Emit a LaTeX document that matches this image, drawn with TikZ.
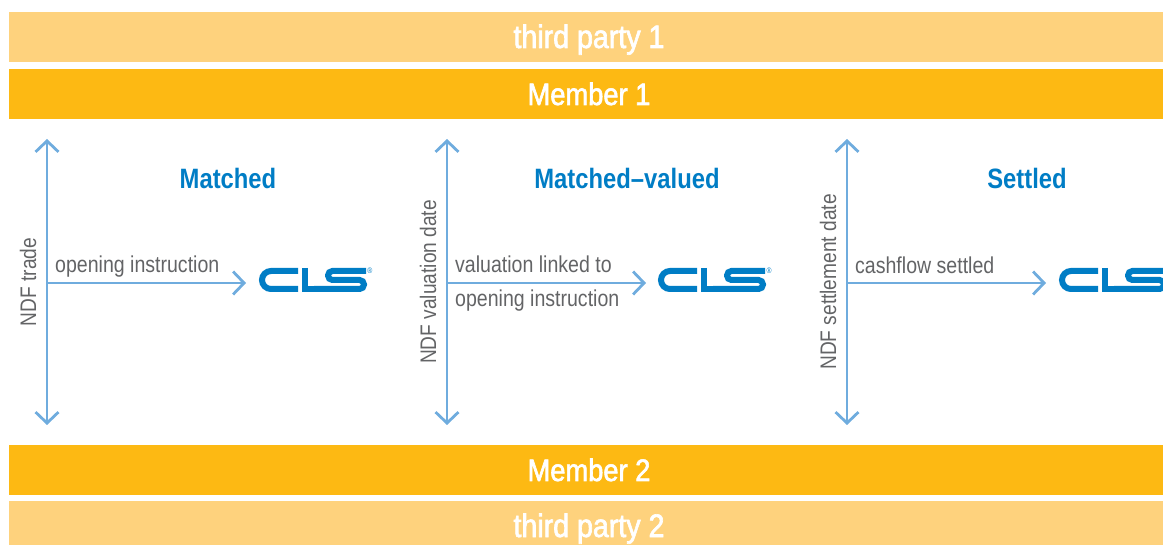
\documentclass[tikz,border=0pt]{standalone}
\usepackage{fontspec}
\setmainfont[FakeStretch=0.85]{Liberation Sans}
\newfontfamily\barfont[FakeStretch=0.88,FakeBold=2]{Liberation Sans}
\usetikzlibrary{arrows.meta}
\definecolor{member}{RGB}{253, 185, 19}
\definecolor{thirdparty}{RGB}{254, 210, 125}
\definecolor{pfeil}{RGB}{111, 172, 222}
\definecolor{clsblue}{RGB}{0, 125, 197}
\definecolor{labelgray}{RGB}{99, 100, 102}
\tikzset{
    bar/.style={fill=#1, draw=none, text=white, font=\barfont\fontsize{31}{31}\selectfont, minimum width=1160pt, minimum height=50pt, inner sep=0pt, text height=22pt, text depth=0pt},
    thirdbar/.style={bar=thirdparty, font=\barfont\fontsize{32.5}{32.5}\selectfont},
    headline/.style={clsblue, font=\fontsize{28}{28}\selectfont\bfseries},
    lbl/.style={labelgray, anchor=west, inner sep=0pt, font=\fontsize{23}{23}\selectfont},
    datelbl/.style={labelgray, anchor=center, inner sep=0pt, rotate=90, font=\fontsize{22.5}{22.5}\selectfont},
    reglbl/.style={clsblue, inner sep=0pt, font=\fontsize{8}{8}\selectfont},
    pfeilline/.style={pfeil, line width=2.8pt, {Straight Barb[length=11pt,width=23pt]}-{Straight Barb[length=11pt,width=23pt]}},
    pfeilright/.style={pfeil, line width=2.8pt, -{Straight Barb[length=11pt,width=23pt]}},
    clslogo/.pic={
        \draw[clsblue, line width=6pt, rounded corners=9pt] (39,-9) -- (3,-9) -- (3,9) -- (39,9);
        \draw[clsblue, line width=6pt] (46,-12) -- (46,9) -- (60,9);
        \draw[clsblue, line width=6pt, rounded corners=4.4pt] (55,9) -- (105,9) -- (105,0) -- (69,0) -- (69,-9) -- (107,-9);
    }
}
\begin{document}
\begin{tikzpicture}[x=1pt, y=-1pt]

    \useasboundingbox (0,0) rectangle (1163,545);
    \clip (0,0) rectangle (1163,545);

    \node[thirdbar] (third1) at (589,37) {third party 1};
    \node[bar=member] (member1) at (589,94) {Member 1};
    \node[bar=member] (member2) at (589,470) {Member 2};
    \node[thirdbar] (third2) at (589,526) {third party 2};

    \node[headline] (matched) at (228,178) {Matched};
    \node[headline] (matchedvalued) at (627,178) {Matched--valued};
    \node[headline] (settled) at (1027,178) {Settled};

    % NDF trade
    \coordinate (top1) at (47,139);
    \coordinate (bot1) at (47,425);
    \coordinate (mid1) at (47,283);
    \coordinate (end1) at (246,283);
    \draw[pfeilline] (top1) -- (bot1);
    \draw[pfeilright] (mid1) -- (end1);
    \node[datelbl] (date1) at (28,282) {NDF trade};
    \node[lbl] (text1) at (55,267) {opening instruction};
    \pic at (259,280) {clslogo};
    \node[reglbl] (reg1) at (370,271) {®};

    % NDF valuation
    \coordinate (top2) at (447,139);
    \coordinate (bot2) at (447,425);
    \coordinate (mid2) at (447,283);
    \coordinate (end2) at (646,283);
    \draw[pfeilline] (top2) -- (bot2);
    \draw[pfeilright] (mid2) -- (end2);
    \node[datelbl] (date2) at (428,282) {NDF valuation date};
    \node[lbl] (text2a) at (455,264) {valuation linked to};
    \node[lbl] (text2b) at (455,301) {opening instruction};
    \pic at (658,280) {clslogo};
    \node[reglbl] (reg2) at (769,271) {®};

    % NDF settlement
    \coordinate (top3) at (847,139);
    \coordinate (bot3) at (847,425);
    \coordinate (mid3) at (847,283);
    \coordinate (end3) at (1046,283);
    \draw[pfeilline] (top3) -- (bot3);
    \draw[pfeilright] (mid3) -- (end3);
    \node[datelbl] (date3) at (828,282) {NDF settlement date};
    \node[lbl] (text3) at (855,265) {cashflow settled};
    \pic at (1059,280) {clslogo};

\end{tikzpicture}
\end{document}
